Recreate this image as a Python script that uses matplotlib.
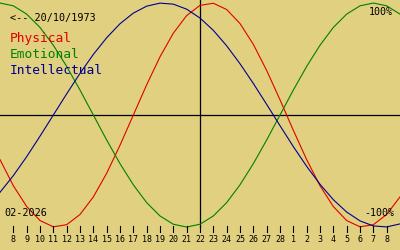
import matplotlib
matplotlib.use("Agg")
import matplotlib.pyplot as plt

# days relative to the centre date (22/02/2026), one value per day
OFFSETS = list(range(-15, 16))
PHYSICAL = [-0.398, -0.631, -0.817, -0.942, -0.998, -0.979, -0.888, -0.731,
            -0.520, -0.270, 0.0, 0.270, 0.520, 0.731, 0.888, 0.979, 0.998,
            0.942, 0.817, 0.631, 0.398, 0.136, -0.136, -0.398, -0.631,
            -0.817, -0.942, -0.998, -0.979, -0.888, -0.731]
EMOTIONAL = [1.0, 0.975, 0.901, 0.782, 0.623, 0.434, 0.223, 0.0, -0.223,
             -0.434, -0.623, -0.782, -0.901, -0.975, -1.0, -0.975, -0.901,
             -0.782, -0.623, -0.434, -0.223, 0.0, 0.223, 0.434, 0.623,
             0.782, 0.901, 0.975, 1.0, 0.975, 0.901]
INTELLECTUAL = [-0.690, -0.541, -0.372, -0.189, 0.0, 0.189, 0.372, 0.541,
                0.690, 0.815, 0.910, 0.972, 0.999, 0.990, 0.945, 0.866,
                0.756, 0.618, 0.458, 0.282, 0.095, -0.095, -0.282, -0.458,
                -0.618, -0.756, -0.866, -0.945, -0.990, -0.999, -0.972]
TICK_DAYS = list(range(-14, 15))
DAY_LABELS = [str(d) for d in range(8, 29)] + [str(d) for d in range(1, 9)]
SERIES = ["Physical", "Emotional", "Intellectual"]
COLORS = ["#e00000", "#008000", "#000090"]
BIRTH = "<-- 20/10/1973"
MONTH = "02-2026"

BG = "#e0d080"
MONO = "DejaVu Sans Mono"

fig = plt.figure(figsize=(4, 2.5), dpi=100, facecolor=BG)
ax = fig.add_axes([0, 0, 1, 1])
ax.set_facecolor(BG)
ax.set_xlim(-15, 15)
ax.set_ylim(-1.205, 1.027)
ax.axis("off")

ax.axhline(0, color="black", lw=0.9)
ax.plot([0, 0], [1.03, -1.0], color="black", lw=0.9)

for vals, col in zip([PHYSICAL, EMOTIONAL, INTELLECTUAL], COLORS):
    ax.plot(OFFSETS, vals, color=col, lw=0.8)

# day ticks along the bottom
for d, lab in zip(TICK_DAYS, DAY_LABELS):
    ax.plot([d, d], [-0.995, -1.04], color="black", lw=0.8)
    ax.text(d, -1.133, lab, ha="center", va="baseline", fontsize=6,
            family=MONO, color="black")

def ypix(py):
    # pixel row from top -> data value
    return (115 - py) / 112.0

ax.text(-15 + 10 / 13.333, ypix(20.5), BIRTH, ha="left", va="baseline",
        fontsize=7.3, family=MONO, color="black")
for i, (name, col) in enumerate(zip(SERIES, COLORS)):
    ax.text(-15 + 10 / 13.333, ypix(42 + 16 * i), name, ha="left",
            va="baseline", fontsize=9.3, family=MONO, color=col)

ax.text(-15 + 393 / 13.333, ypix(15.3), "100%", ha="right", va="baseline",
        fontsize=7.2, family=MONO, color="black")
ax.text(-15 + 394 / 13.333, ypix(215.5), "-100%", ha="right", va="baseline",
        fontsize=7.2, family=MONO, color="black")
ax.text(-15 + 4 / 13.333, ypix(215.5), MONTH, ha="left", va="baseline",
        fontsize=7.3, family=MONO, color="black")

fig.savefig("out.png", dpi=100, facecolor=BG)
